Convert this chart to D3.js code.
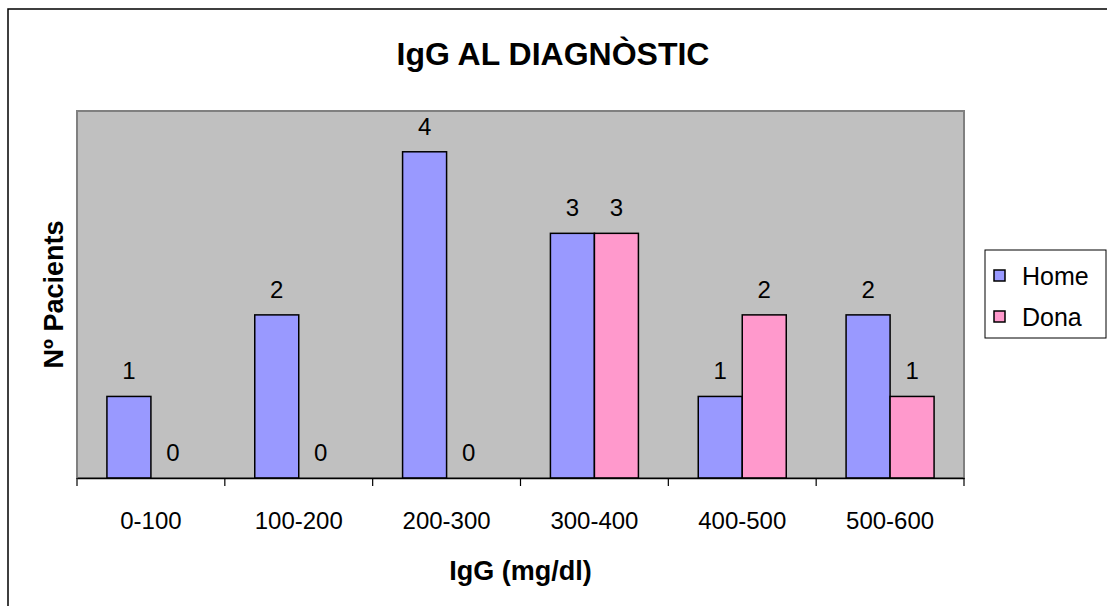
<!DOCTYPE html>
<html>
<head>
<meta charset="utf-8">
<script src="https://cdn.jsdelivr.net/npm/d3@7"></script>
<style>
  html, body { margin: 0; padding: 0; background: #fff; }
  svg { display: block; font-family: "Liberation Sans", Arial, sans-serif; }
</style>
</head>
<body>
<svg id="chart" width="1107" height="606"></svg>
<script>
// IgG ranges at diagnosis (mg/dl) and patient counts by sex
const categories = ["0-100", "100-200", "200-300", "300-400", "400-500", "500-600"];
const seriesNames = ["Home", "Dona"];
const homeValues = [1, 2, 4, 3, 1, 2];
const donaValues = [0, 0, 0, 3, 2, 1];
const seriesColors = ["#9999FF", "#FF99CC"];

const rows = categories.map((c, i) => ({ cat: c, values: [homeValues[i], donaValues[i]] }));

const svg = d3.select("#chart");
const plot = { left: 77, top: 111, right: 964, bottom: 478 };
const labelSize = 24;

// outer chart frame
svg.append("rect")
  .attr("x", 8).attr("y", 9).attr("width", 1110).attr("height", 610)
  .attr("fill", "#fff").attr("stroke", "#000").attr("stroke-width", 1.5);

// plot area
svg.append("rect")
  .attr("x", plot.left).attr("y", plot.top)
  .attr("width", plot.right - plot.left).attr("height", plot.bottom - plot.top)
  .attr("fill", "#C0C0C0").attr("stroke", "#808080").attr("stroke-width", 2);

const x0 = d3.scaleBand().domain(categories).range([plot.left, plot.right]).padding(0);
const x1 = d3.scaleBand().domain(seriesNames)
  .range([0, x0.bandwidth()]).paddingInner(0).paddingOuter(0.68);
const y = d3.scaleLinear().domain([0, 4.5]).range([plot.bottom, plot.top]);

const groups = svg.append("g").selectAll("g").data(rows).join("g")
  .attr("transform", d => `translate(${x0(d.cat)},0)`);

const bars = groups.selectAll("g.s")
  .data(d => d.values.map((v, j) => ({ name: seriesNames[j], v, j })))
  .join("g").attr("class", "s");

bars.filter(d => d.v > 0).append("rect")
  .attr("x", d => x1(d.name))
  .attr("y", d => y(d.v))
  .attr("width", x1.bandwidth())
  .attr("height", d => y(0) - y(d.v))
  .attr("fill", d => seriesColors[d.j])
  .attr("stroke", "#000").attr("stroke-width", 1.5);

bars.append("text")
  .attr("x", d => x1(d.name) + x1.bandwidth() / 2)
  .attr("y", d => y(d.v) - 17)
  .attr("text-anchor", "middle")
  .attr("font-size", labelSize)
  .attr("fill", "#000")
  .text(d => d.v);

// category axis
const xAxis = d3.axisBottom(x0).tickSize(0).tickPadding(0);
const axisG = svg.append("g")
  .attr("transform", `translate(0,${plot.bottom})`)
  .call(xAxis);
axisG.select(".domain").attr("stroke", "#000").attr("stroke-width", 1.5);
axisG.selectAll("text")
  .attr("dy", null).attr("y", 51)
  .attr("font-size", labelSize)
  .attr("font-family", "Liberation Sans, Arial, sans-serif")
  .attr("fill", "#000");

// tick marks at category boundaries
const boundaries = categories.map(c => x0(c)).concat([x0.range()[1]]);
svg.append("g").selectAll("line").data(boundaries).join("line")
  .attr("x1", d => d).attr("x2", d => d)
  .attr("y1", plot.bottom).attr("y2", plot.bottom + 8)
  .attr("stroke", "#000").attr("stroke-width", 1.2);

// titles
svg.append("text")
  .attr("x", 553).attr("y", 65)
  .attr("text-anchor", "middle")
  .attr("font-size", 32).attr("font-weight", "bold")
  .text("IgG AL DIAGNÒSTIC");

svg.append("text")
  .attr("x", (plot.left + plot.right) / 2).attr("y", 580)
  .attr("text-anchor", "middle")
  .attr("font-size", 27).attr("font-weight", "bold")
  .text("IgG (mg/dl)");

svg.append("text")
  .attr("transform", `translate(63,${(plot.top + plot.bottom) / 2}) rotate(-90)`)
  .attr("text-anchor", "middle")
  .attr("font-size", 27).attr("font-weight", "bold")
  .text("Nº Pacients");

// legend
const legend = svg.append("g");
legend.append("rect")
  .attr("x", 985).attr("y", 250).attr("width", 121).attr("height", 88)
  .attr("fill", "#fff").attr("stroke", "#000").attr("stroke-width", 1);
const items = legend.selectAll("g.item").data(seriesNames).join("g")
  .attr("class", "item")
  .attr("transform", (d, i) => `translate(994,${276 + i * 41})`);
items.append("rect")
  .attr("x", 0).attr("y", -6).attr("width", 11).attr("height", 11)
  .attr("fill", (d, i) => seriesColors[i])
  .attr("stroke", "#000").attr("stroke-width", 1.5);
items.append("text")
  .attr("x", 28).attr("y", 9)
  .attr("font-size", 25)
  .text(d => d);
</script>
</body>
</html>
